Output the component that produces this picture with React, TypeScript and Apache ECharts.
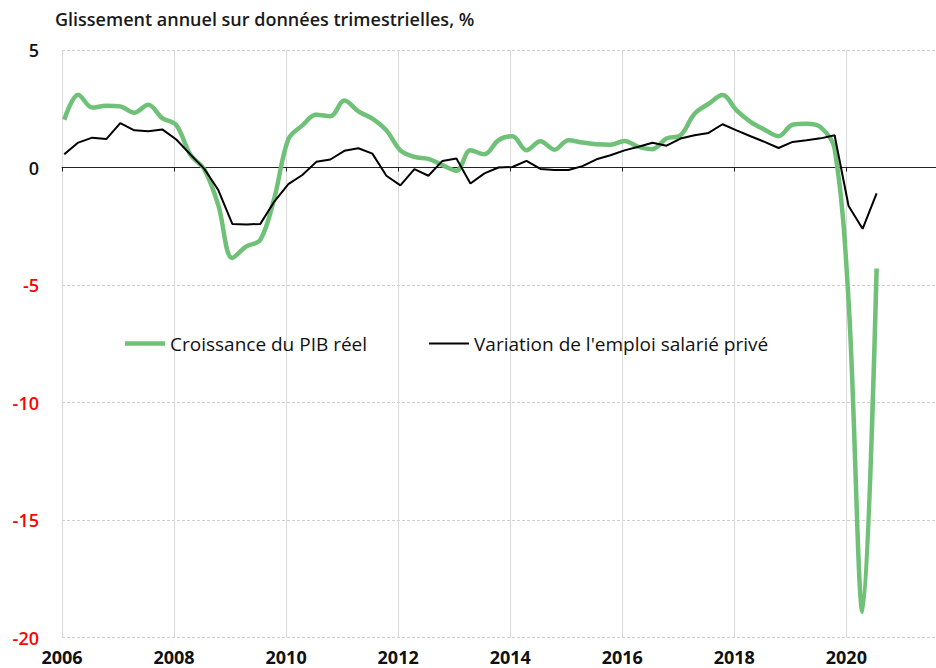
import React, { useEffect, useRef } from "react";
import * as echarts from "echarts";

const TITLE = "Glissement annuel sur données trimestrielles, %";
const SERIES_NAMES = ["Croissance du PIB réel", "Variation de l'emploi salarié privé"];

// Quarterly data, 2006 T1 .. 2020 T3
const START_YEAR = 2006;
const gdpGrowth = [
  2.03, 3.1, 2.55, 2.63, 2.6, 2.33, 2.67, 2.1,
  1.8, 0.55, -0.08, -1.6, -3.85, -3.36, -3.08, -1.3,
  1.2, 1.79, 2.25, 2.18, 2.85, 2.39, 2.08, 1.58,
  0.73, 0.45, 0.37, 0.1, -0.14, 0.73, 0.56, 1.16,
  1.33, 0.73, 1.12, 0.76, 1.16, 1.06, 0.99, 0.97,
  1.13, 0.88, 0.78, 1.23, 1.37, 2.29, 2.71, 3.08,
  2.43, 1.94, 1.61, 1.33, 1.82, 1.86, 1.72, 0.8,
  -5.7, -18.9, -4.3,
];
const privateEmployment = [
  0.56, 1.06, 1.27, 1.21, 1.89, 1.58, 1.54, 1.62,
  1.19, 0.56, -0.06, -0.96, -2.4, -2.43, -2.4, -1.45,
  -0.71, -0.32, 0.24, 0.34, 0.71, 0.82, 0.59, -0.35,
  -0.76, -0.07, -0.35, 0.28, 0.38, -0.68, -0.25, 0.0,
  0.02, 0.28, -0.06, -0.11, -0.11, 0.06, 0.35, 0.52,
  0.73, 0.88, 1.05, 0.93, 1.23, 1.37, 1.47, 1.84,
  1.58, 1.33, 1.09, 0.83, 1.09, 1.16, 1.24, 1.37,
  -1.64, -2.61, -1.1,
];
const yTicks = { min: -20, max: 5, interval: 5 };
const xTicks = { min: 2006, max: 2021.6, interval: 2 };

const FONT = "'Open Sans', 'Noto Sans', sans-serif";
const GREEN = "#70C178";

function toPoints(values: number[]) {
  return values.map((v, i) => [START_YEAR + i / 4 + 0.04, v]);
}

const isEvenYear = (v: number) => Number.isInteger(v) && v % 2 === 0;

export default function App() {
  const ref = useRef<HTMLDivElement>(null);
  useEffect(() => {
    if (!ref.current) return;
    const chart = echarts.init(ref.current, undefined, { renderer: "svg" });
    chart.setOption({
      animation: false,
      backgroundColor: "#ffffff",
      textStyle: { fontFamily: FONT },
      title: {
        text: TITLE,
        left: 55,
        top: 10,
        padding: 0,
        textStyle: { fontFamily: FONT, fontSize: 18, fontWeight: 600, color: "#1a1a1a" },
      },
      legend: {
        data: [
          { name: SERIES_NAMES[0], icon: "path://M0,0H40V4.5H0Z" },
          { name: SERIES_NAMES[1], icon: "path://M0,0H40V2.2H0Z" },
        ],
        left: 125,
        top: 334,
        padding: 0,
        itemWidth: 40,
        itemHeight: 16,
        itemGap: 62,
        symbolKeepAspect: true,
        textStyle: { fontFamily: FONT, fontSize: 19, fontWeight: 500, color: "#111" },
      },
      grid: { left: 62, top: 50, right: 0, height: 587.5, containLabel: false },
      xAxis: [
        {
          type: "value",
          min: xTicks.min,
          max: xTicks.max,
          interval: xTicks.interval,
          position: "bottom",
          axisLine: { show: false, onZero: false },
          axisTick: { show: false },
          axisLabel: {
            showMaxLabel: false,
            margin: 10,
            fontFamily: FONT,
            fontSize: 18,
            fontWeight: "bold",
            color: "#111",
            formatter: (v: number) => (isEvenYear(v) ? String(v) : ""),
          },
          splitLine: { show: true, lineStyle: { color: "#d9d9d9", width: 1, type: "solid" } },
        },
        {
          type: "value",
          min: xTicks.min,
          max: xTicks.max,
          interval: xTicks.interval,
          position: "bottom",
          axisLine: { show: true, onZero: true, lineStyle: { color: "#222", width: 1 } },
          axisTick: { show: true, length: 4, lineStyle: { color: "#222", width: 1 } },
          axisLabel: { show: false },
          splitLine: { show: false },
        },
      ],
      yAxis: {
        type: "value",
        min: yTicks.min,
        max: yTicks.max,
        interval: yTicks.interval,
        axisLine: { show: false },
        axisTick: { show: false },
        axisLabel: {
          margin: 23,
          fontFamily: FONT,
          fontSize: 18,
          fontWeight: 600,
          color: (v: any) => (Number(v) < 0 ? "#ff0000" : "#111"),
        },
        splitLine: { show: true, lineStyle: { color: "#d0d0d0", width: 1, type: [3, 2] } },
      },
      series: [
        {
          name: SERIES_NAMES[0],
          type: "line",
          xAxisIndex: 0,
          data: toPoints(gdpGrowth),
          symbol: "none",
          smooth: 0.35,
          lineStyle: { color: GREEN, width: 4.5 },
          itemStyle: { color: GREEN },
          z: 3,
        },
        {
          name: SERIES_NAMES[1],
          type: "line",
          xAxisIndex: 0,
          data: toPoints(privateEmployment),
          symbol: "none",
          smooth: false,
          lineStyle: { color: "#000", width: 2 },
          itemStyle: { color: "#000" },
          z: 4,
        },
      ],
    });
    return () => chart.dispose();
  }, []);
  return (
    <div
      ref={ref}
      style={{ position: "fixed", left: 0, top: 0, width: 936, height: 668, background: "#fff" }}
    />
  );
}
